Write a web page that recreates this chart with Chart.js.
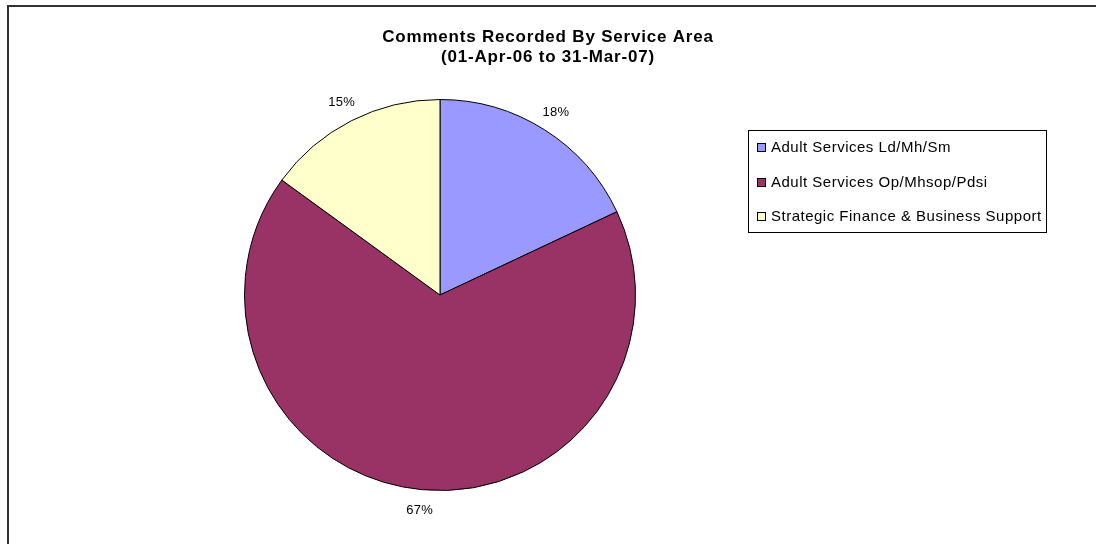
<!DOCTYPE html>
<html>
<head>
<meta charset="utf-8">
<script src="https://cdn.jsdelivr.net/npm/chart.js@4"></script>
<style>
  html, body { margin: 0; padding: 0; background: #fff; }
  #wrap { width: 1096px; height: 544px; }
</style>
</head>
<body>
<div id="wrap"><canvas id="pieChart" width="1096" height="544"></canvas></div>
<script>
// Chart data
const areas = [
    'Adult Services Ld/Mh/Sm',
    'Adult Services Op/Mhsop/Pdsi',
    'Strategic Finance & Business Support'
];
const shares = [18, 67, 15];
const sliceColours = ['#9999FF', '#993366', '#FFFFCC'];
const titleLines = ['Comments Recorded By Service Area', '(01-Apr-06 to 31-Mar-07)'];

const FONT = "'Liberation Sans', Arial, sans-serif";

// Frame round the chart (only top and left edges show)
const framePlugin = {
    id: 'frame',
    beforeDraw(chart) {
        const ctx = chart.ctx;
        ctx.save();
        ctx.fillStyle = '#333';
        ctx.fillRect(7, 5, chart.width - 7, 2);
        ctx.fillRect(7, 5, 2, chart.height - 5);
        ctx.restore();
    }
};

// Title, centred on the whole canvas
const pageTitle = {
    id: 'pageTitle',
    afterDraw(chart) {
        const ctx = chart.ctx;
        ctx.save();
        ctx.font = 'bold 17px ' + FONT;
        ctx.letterSpacing = '0.8px';
        ctx.fillStyle = '#000';
        ctx.textAlign = 'center';
        ctx.textBaseline = 'middle';
        titleLines.forEach((line, i) => {
            ctx.fillText(line, chart.width / 2, 37 + i * 20);
        });
        ctx.restore();
    }
};

// Percent labels outside each slice
const percentLabels = {
    id: 'percentLabels',
    afterDatasetsDraw(chart) {
        const ctx = chart.ctx;
        const meta = chart.getDatasetMeta(0);
        ctx.save();
        ctx.font = '13px ' + FONT;
        ctx.letterSpacing = '0.3px';
        ctx.fillStyle = '#000';
        ctx.textAlign = 'center';
        ctx.textBaseline = 'middle';
        meta.data.forEach((arc, i) => {
            const mid = (arc.startAngle + arc.endAngle) / 2;
            const d = arc.outerRadius + 21;
            const x = arc.x + Math.cos(mid) * d;
            const y = arc.y + Math.sin(mid) * d;
            ctx.fillText(shares[i] + '%', x, y);
        });
        ctx.restore();
    }
};

// Boxed legend on the right
const boxedLegend = {
    id: 'boxedLegend',
    afterDraw(chart) {
        const ctx = chart.ctx;
        const left = 748, top = 130, w = 298, h = 102;
        ctx.save();
        ctx.strokeStyle = '#000';
        ctx.lineWidth = 1;
        ctx.strokeRect(left + 0.5, top + 0.5, w, h);
        ctx.font = '15px ' + FONT;
        ctx.letterSpacing = '0.5px';
        ctx.textBaseline = 'middle';
        ctx.textAlign = 'left';
        areas.forEach((name, i) => {
            const cy = top + 17 + i * 34.5;
            ctx.fillStyle = sliceColours[i];
            ctx.fillRect(757, Math.round(cy) - 4, 9, 9);
            ctx.strokeStyle = '#000';
            ctx.strokeRect(757.5, Math.round(cy) - 3.5, 8, 8);
            ctx.fillStyle = '#000';
            ctx.fillText(name, 771, cy + 1);
        });
        ctx.restore();
    }
};

const ctx = document.getElementById('pieChart').getContext('2d');
new Chart(ctx, {
    type: 'pie',
    data: {
        labels: areas,
        datasets: [{
            data: shares,
            backgroundColor: sliceColours,
            borderColor: '#000',
            borderWidth: 1,
            hoverOffset: 0,
            offset: 0
        }]
    },
    options: {
        responsive: false,
        animation: false,
        layout: {
            padding: { left: 244, right: 460, top: 75, bottom: 29 }
        },
        plugins: {
            legend: { display: false },
            tooltip: { enabled: false },
            title: { display: false }
        }
    },
    plugins: [framePlugin, percentLabels, boxedLegend, pageTitle]
});
</script>
</body>
</html>
